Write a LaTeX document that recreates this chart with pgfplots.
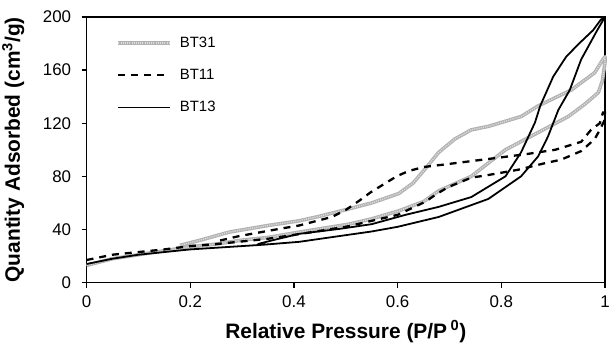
\documentclass[border=0pt]{standalone}
\usepackage{fontspec}
\setmainfont{Liberation Sans}
\usepackage{pgfplots}
\pgfplotsset{compat=1.18}
\begin{document}
\begin{tikzpicture}
\useasboundingbox (-87pt,-64pt) rectangle (527pt,284pt);
\begin{axis}[
  at={(0pt,0pt)}, anchor=south west,
  width=521pt, height=267pt, scale only axis,
  xmin=0, xmax=1, ymin=0, ymax=200,
  xtick={0,0.2,0.4,0.6,0.8,1},
  ytick={0,40,80,120,160,200},
  xtick pos=left, ytick pos=left,
  tick align=outside,
  major tick length=5pt,
  axis line style={line width=1.3pt},
  every tick/.style={black, line width=1.2pt},
  ticklabel style={font=\fontsize{17}{20}\selectfont},
  xticklabel style={yshift=-5pt},
  yticklabel style={xshift=-7pt},
  /pgf/number format/assume math mode=true,
  xlabel={Relative Pressure (P/P\,\textsuperscript{0})},
  ylabel={Quantity Adsorbed (cm\textsuperscript{3}/g)},
  label style={font=\bfseries\fontsize{21}{24}\selectfont},
  xlabel style={at={(axis description cs:0.5,0)}, anchor=base, yshift=-56pt},
  ylabel style={at={(axis description cs:0,0.5)}, anchor=base, rotate=0, yshift=67pt},
  legend style={draw=none, fill=none, at={(axis description cs:0,1)}, anchor=north west,
    xshift=30pt, yshift=-18pt,
    font=\fontsize{15}{18}\selectfont, row sep=16.5pt, inner sep=0pt},
  legend cell align=left,
  legend image code/.code={\draw[#1] (0pt,0pt) -- (52pt,0pt); \path (58pt,0pt);},
  clip=false,
]
% BT31 grey textured
\addplot[color=gray!60, line width=3.6pt, line join=round,
  postaction={draw, gray!25, line width=1.4pt, dash pattern=on 1pt off 1.2pt}]
coordinates {
(0,13)(0.05,18)(0.1,21)(0.15,24)(0.2,27)(0.25,29)(0.3,32)(0.35,34)(0.41,38)
(0.45,40.5)(0.506,44)(0.55,48)(0.602,54)(0.65,61)(0.679,69)(0.742,80)(0.808,100)
(0.871,113)(0.929,125)(0.96,134)(0.987,143)(0.995,152)(1.0,166)
(1.0,170)(0.996,168)(0.98,158)(0.935,145)(0.871,133)(0.838,125)(0.775,117.6)
(0.742,115)(0.71,108)(0.679,98)(0.654,86)(0.63,75)(0.602,67)(0.55,60)(0.506,55.5)
(0.45,50)(0.41,46.5)(0.35,43)(0.275,38)(0.22,32)(0.18,28)
};
\addlegendentry{BT31}
% BT11 dashed
\addplot[black, line width=2.3pt, dash pattern=on 7pt off 6pt]
coordinates {
(0,17)(0.05,21)(0.1,23)(0.15,25)(0.2,27.5)(0.25,29)(0.3,31)(0.35,33)(0.41,36.5)
(0.5,42)(0.6,51)(0.654,61)(0.675,66.7)(0.698,72)(0.742,79)(0.775,81)(0.833,85)
(0.885,90)(0.915,92.5)(0.954,99)(0.98,108)(0.99,115)(1.0,123)
(1.0,128)(0.996,128)(0.99,120)(0.973,115)(0.954,106)(0.904,100)(0.846,96.6)
(0.794,94)(0.692,89)(0.65,87)(0.621,84)(0.598,80)(0.573,74)(0.548,68)(0.525,61.4)
(0.5,54.7)(0.473,49.4)(0.41,43)(0.371,40.4)(0.294,35)(0.25,31)
};
\addlegendentry{BT11}
% BT13 solid
\addplot[black, line width=1.8pt, line join=round]
coordinates {
(0,14)(0.05,18)(0.1,21)(0.15,23)(0.2,25)(0.3,27.5)(0.34,28.5)(0.41,30.7)
(0.487,35)(0.55,38.5)(0.6,42)(0.679,49.4)(0.775,63)(0.838,80)(0.871,95)(0.89,110)
(0.91,130)(0.932,145)(0.954,168)(0.985,190)(1.0,200)
(0.992,198)(0.977,190)(0.95,180)(0.925,170)(0.9,155)(0.875,133)(0.865,120.6)
(0.838,98)(0.808,80)(0.742,64.4)(0.679,57)(0.615,51)(0.55,44)(0.487,40.4)
(0.41,36.7)(0.36,32)(0.33,29)
};
\addlegendentry{BT13}
\end{axis}
\end{tikzpicture}
\end{document}
